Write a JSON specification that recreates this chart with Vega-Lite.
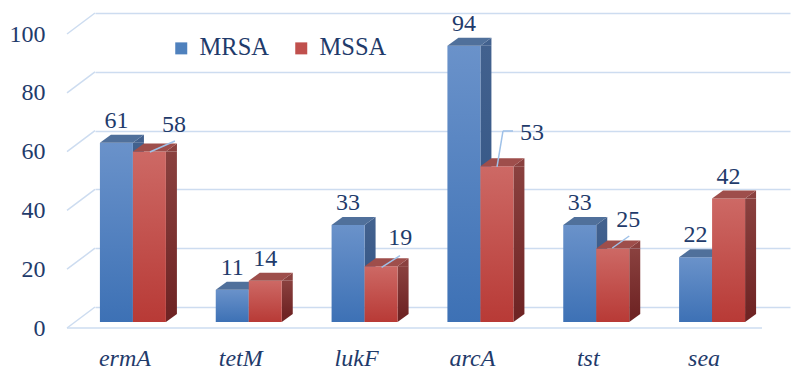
{
  "$schema": "https://vega.github.io/schema/vega-lite/v6.json",
  "width": 695,
  "height": 294,
  "autosize": {"type": "none"},
  "padding": {"left": 95, "top": 13, "right": 20, "bottom": 69},
  "view": {"stroke": null},
  "data": {"values": [
      {"gene": "ermA", "series": "MRSA", "value": 61},
      {"gene": "ermA", "series": "MSSA", "value": 58},
      {"gene": "tetM", "series": "MRSA", "value": 11},
      {"gene": "tetM", "series": "MSSA", "value": 14},
      {"gene": "lukF", "series": "MRSA", "value": 33},
      {"gene": "lukF", "series": "MSSA", "value": 19},
      {"gene": "arcA", "series": "MRSA", "value": 94},
      {"gene": "arcA", "series": "MSSA", "value": 53},
      {"gene": "tst", "series": "MRSA", "value": 33},
      {"gene": "tst", "series": "MSSA", "value": 25},
      {"gene": "sea", "series": "MRSA", "value": 22},
      {"gene": "sea", "series": "MSSA", "value": 42}
  ]},
  "layer": [
    {
      "data": {"values": [{"v": 0}, {"v": 20}, {"v": 40}, {"v": 60}, {"v": 80}, {"v": 100}]},
      "mark": {"type": "rule", "color": "#cddcf0", "strokeWidth": 1.5, "yOffset": 21, "y2Offset": 0},
      "encoding": {
        "x": {"value": -28},
        "x2": {"value": 0},
        "y": {"field": "v", "type": "quantitative", "title": null,
              "scale": {"domain": [0, 100], "nice": false},
              "axis": {"values": [0, 20, 40, 60, 80, 100], "grid": true, "gridColor": "#cddcf0", "gridWidth": 1.5,
                       "domain": false, "ticks": false, "tickSize": 0, "labelPadding": 50, "labelOffset": 21,
                       "labelFont": "Liberation Serif", "labelFontSize": 24, "labelColor": "#1f3b6b"}},
        "y2": {"field": "v"}
      }
    },
    {
      "data": {"values": [{"v": 0}]},
      "mark": {"type": "rule", "color": "#cddcf0", "strokeWidth": 1.5, "yOffset": 21},
      "encoding": {
        "x": {"value": -28},
        "x2": {"value": 667},
        "y": {"field": "v", "type": "quantitative", "title": null}
      }
    },
    {
      "transform": [{"filter": "datum.series == 'MRSA'"}],
      "mark": {"type": "bar", "width": 11, "xOffset": -14.5, "yOffset": 15, "y2Offset": 7,
               "fill": {"gradient": "linear", "x1": 0, "y1": 0, "x2": 0, "y2": 1,
                        "stops": [{"offset": 0, "color": "#42618e"}, {"offset": 1, "color": "#2f5283"}]}},
      "encoding": {
        "x": {"field": "gene", "type": "nominal", "sort": ["ermA", "tetM", "lukF", "arcA", "tst", "sea"], "title": null,
              "scale": {"paddingInner": 0, "paddingOuter": 0},
              "axis": {"domain": false, "ticks": false, "tickSize": 0, "grid": false, "labelAngle": 0,
                       "labelPadding": 39, "labelOffset": -28, "labelFont": "Liberation Serif",
                       "labelFontSize": 24, "labelFontStyle": "italic", "labelColor": "#1f3b6b"}},
        "y": {"field": "value", "type": "quantitative", "title": null},
        "y2": {"datum": 0}
      }
    },
    {
      "transform": [{"filter": "datum.series == 'MRSA'"}],
      "mark": {"type": "point", "shape": "M33,0L44,-8L44,0Z", "size": 4, "filled": true, "opacity": 1,
               "strokeWidth": 0, "color": "#42618e", "xOffset": -53, "yOffset": 15},
      "encoding": {
        "x": {"field": "gene", "type": "nominal", "sort": ["ermA", "tetM", "lukF", "arcA", "tst", "sea"], "title": null},
        "y": {"field": "value", "type": "quantitative", "title": null}
      }
    },
    {
      "transform": [{"filter": "datum.series == 'MRSA'"}],
      "mark": {"type": "point", "shape": "M33,0L33,-8L44,-8Z", "size": 4, "filled": true, "opacity": 1,
               "strokeWidth": 0, "color": "#2f5283", "xOffset": -53, "yOffset": 15},
      "encoding": {
        "x": {"field": "gene", "type": "nominal", "sort": ["ermA", "tetM", "lukF", "arcA", "tst", "sea"], "title": null},
        "y": {"datum": 0, "type": "quantitative"}
      }
    },
    {
      "transform": [{"filter": "datum.series == 'MRSA'"}],
      "mark": {"type": "bar", "width": 33, "xOffset": -36.5, "yOffset": 15, "y2Offset": 15,
               "fill": {"gradient": "linear", "x1": 0, "y1": 0, "x2": 0, "y2": 1,
                        "stops": [{"offset": 0, "color": "#6a92ca"}, {"offset": 1, "color": "#3d71b5"}]}},
      "encoding": {
        "x": {"field": "gene", "type": "nominal", "sort": ["ermA", "tetM", "lukF", "arcA", "tst", "sea"], "title": null},
        "y": {"field": "value", "type": "quantitative", "title": null},
        "y2": {"datum": 0}
      }
    },
    {
      "transform": [{"filter": "datum.series == 'MRSA'"}],
      "mark": {"type": "point", "shape": "M0,0L33,0L44,-8L11,-8Z", "size": 4, "filled": true, "opacity": 1,
               "strokeWidth": 0, "color": "#50709b", "xOffset": -53, "yOffset": 15},
      "encoding": {
        "x": {"field": "gene", "type": "nominal", "sort": ["ermA", "tetM", "lukF", "arcA", "tst", "sea"], "title": null},
        "y": {"field": "value", "type": "quantitative", "title": null}
      }
    },
    {
      "transform": [{"filter": "datum.series == 'MSSA'"}],
      "mark": {"type": "bar", "width": 11, "xOffset": 18.5, "yOffset": 15, "y2Offset": 7,
               "fill": {"gradient": "linear", "x1": 0, "y1": 0, "x2": 0, "y2": 1,
                        "stops": [{"offset": 0, "color": "#8a413f"}, {"offset": 1, "color": "#6f2424"}]}},
      "encoding": {
        "x": {"field": "gene", "type": "nominal", "sort": ["ermA", "tetM", "lukF", "arcA", "tst", "sea"], "title": null},
        "y": {"field": "value", "type": "quantitative", "title": null},
        "y2": {"datum": 0}
      }
    },
    {
      "transform": [{"filter": "datum.series == 'MSSA'"}],
      "mark": {"type": "point", "shape": "M33,0L44,-8L44,0Z", "size": 4, "filled": true, "opacity": 1,
               "strokeWidth": 0, "color": "#8a413f", "xOffset": -20, "yOffset": 15},
      "encoding": {
        "x": {"field": "gene", "type": "nominal", "sort": ["ermA", "tetM", "lukF", "arcA", "tst", "sea"], "title": null},
        "y": {"field": "value", "type": "quantitative", "title": null}
      }
    },
    {
      "transform": [{"filter": "datum.series == 'MSSA'"}],
      "mark": {"type": "point", "shape": "M33,0L33,-8L44,-8Z", "size": 4, "filled": true, "opacity": 1,
               "strokeWidth": 0, "color": "#6f2424", "xOffset": -20, "yOffset": 15},
      "encoding": {
        "x": {"field": "gene", "type": "nominal", "sort": ["ermA", "tetM", "lukF", "arcA", "tst", "sea"], "title": null},
        "y": {"datum": 0, "type": "quantitative"}
      }
    },
    {
      "transform": [{"filter": "datum.series == 'MSSA'"}],
      "mark": {"type": "bar", "width": 33, "xOffset": -3.5, "yOffset": 15, "y2Offset": 15,
               "fill": {"gradient": "linear", "x1": 0, "y1": 0, "x2": 0, "y2": 1,
                        "stops": [{"offset": 0, "color": "#cd6965"}, {"offset": 1, "color": "#b83a36"}]}},
      "encoding": {
        "x": {"field": "gene", "type": "nominal", "sort": ["ermA", "tetM", "lukF", "arcA", "tst", "sea"], "title": null},
        "y": {"field": "value", "type": "quantitative", "title": null},
        "y2": {"datum": 0}
      }
    },
    {
      "transform": [{"filter": "datum.series == 'MSSA'"}],
      "mark": {"type": "point", "shape": "M0,0L33,0L44,-8L11,-8Z", "size": 4, "filled": true, "opacity": 1,
               "strokeWidth": 0, "color": "#9e4e4b", "xOffset": -20, "yOffset": 15},
      "encoding": {
        "x": {"field": "gene", "type": "nominal", "sort": ["ermA", "tetM", "lukF", "arcA", "tst", "sea"], "title": null},
        "y": {"field": "value", "type": "quantitative", "title": null}
      }
    },
    {
      "transform": [{"filter": "datum.series == 'MRSA'"}],
      "mark": {"type": "text", "xOffset": -36.5, "align": "center", "baseline": "alphabetic",
               "fontSize": 24, "font": "Liberation Serif", "color": "#1f3b6b"},
      "encoding": {
        "x": {"field": "gene", "type": "nominal", "sort": ["ermA", "tetM", "lukF", "arcA", "tst", "sea"], "title": null},
        "y": {"field": "value", "type": "quantitative", "title": null},
        "text": {"field": "value", "type": "quantitative"}
      }
    },
    {
      "transform": [{"filter": "datum.series == 'MSSA' && (datum.gene == 'tetM' || datum.gene == 'sea')"}],
      "mark": {"type": "text", "xOffset": -3.5, "align": "center", "baseline": "alphabetic",
               "fontSize": 24, "font": "Liberation Serif", "color": "#1f3b6b"},
      "encoding": {
        "x": {"field": "gene", "type": "nominal", "sort": ["ermA", "tetM", "lukF", "arcA", "tst", "sea"], "title": null},
        "y": {"field": "value", "type": "quantitative", "title": null},
        "text": {"field": "value", "type": "quantitative"}
      }
    },
    {
      "transform": [{"filter": "datum.series == 'MSSA' && datum.gene == 'ermA'"}],
      "mark": {"type": "text", "xOffset": 21, "yOffset": -4.5, "align": "center", "baseline": "alphabetic",
               "fontSize": 24, "font": "Liberation Serif", "color": "#1f3b6b"},
      "encoding": {
        "x": {"field": "gene", "type": "nominal", "sort": ["ermA", "tetM", "lukF", "arcA", "tst", "sea"], "title": null},
        "y": {"field": "value", "type": "quantitative", "title": null},
        "text": {"field": "value", "type": "quantitative"}
      }
    },
    {
      "transform": [{"filter": "datum.series == 'MSSA' && datum.gene == 'ermA'"}],
      "mark": {"type": "rule", "color": "#9fc1e8", "strokeWidth": 1.5, "xOffset": -3, "x2Offset": 22, "yOffset": 15.5, "y2Offset": 4.5},
      "encoding": {
        "x": {"field": "gene", "type": "nominal", "sort": ["ermA", "tetM", "lukF", "arcA", "tst", "sea"], "title": null},
        "x2": {"field": "gene"},
        "y": {"field": "value", "type": "quantitative", "title": null},
        "y2": {"field": "value"}
      }
    },
    {
      "transform": [{"filter": "datum.series == 'MSSA' && datum.gene == 'lukF'"}],
      "mark": {"type": "text", "xOffset": 15.6, "yOffset": -6, "align": "center", "baseline": "alphabetic",
               "fontSize": 24, "font": "Liberation Serif", "color": "#1f3b6b"},
      "encoding": {
        "x": {"field": "gene", "type": "nominal", "sort": ["ermA", "tetM", "lukF", "arcA", "tst", "sea"], "title": null},
        "y": {"field": "value", "type": "quantitative", "title": null},
        "text": {"field": "value", "type": "quantitative"}
      }
    },
    {
      "transform": [{"filter": "datum.series == 'MSSA' && datum.gene == 'lukF'"}],
      "mark": {"type": "rule", "color": "#9fc1e8", "strokeWidth": 1.5, "xOffset": -3, "x2Offset": 15.4, "yOffset": 16.2, "y2Offset": 4.6},
      "encoding": {
        "x": {"field": "gene", "type": "nominal", "sort": ["ermA", "tetM", "lukF", "arcA", "tst", "sea"], "title": null},
        "x2": {"field": "gene"},
        "y": {"field": "value", "type": "quantitative", "title": null},
        "y2": {"field": "value"}
      }
    },
    {
      "transform": [{"filter": "datum.series == 'MSSA' && datum.gene == 'arcA'"}],
      "mark": {"type": "text", "xOffset": 31.6, "yOffset": -11, "align": "center", "baseline": "alphabetic",
               "fontSize": 24, "font": "Liberation Serif", "color": "#1f3b6b"},
      "encoding": {
        "x": {"field": "gene", "type": "nominal", "sort": ["ermA", "tetM", "lukF", "arcA", "tst", "sea"], "title": null},
        "y": {"field": "value", "type": "quantitative", "title": null},
        "text": {"field": "value", "type": "quantitative"}
      }
    },
    {
      "transform": [{"filter": "datum.series == 'MSSA' && datum.gene == 'arcA'"}],
      "mark": {"type": "rule", "color": "#9fc1e8", "strokeWidth": 1.5, "xOffset": -3.4, "x2Offset": 2.6, "yOffset": 15.8, "y2Offset": -20.2},
      "encoding": {
        "x": {"field": "gene", "type": "nominal", "sort": ["ermA", "tetM", "lukF", "arcA", "tst", "sea"], "title": null},
        "x2": {"field": "gene"},
        "y": {"field": "value", "type": "quantitative", "title": null},
        "y2": {"field": "value"}
      }
    },
    {
      "transform": [{"filter": "datum.series == 'MSSA' && datum.gene == 'arcA'"}],
      "mark": {"type": "rule", "color": "#9fc1e8", "strokeWidth": 1.5, "xOffset": 2.6, "x2Offset": 12.6, "yOffset": -20.2, "y2Offset": -20.2},
      "encoding": {
        "x": {"field": "gene", "type": "nominal", "sort": ["ermA", "tetM", "lukF", "arcA", "tst", "sea"], "title": null},
        "x2": {"field": "gene"},
        "y": {"field": "value", "type": "quantitative", "title": null},
        "y2": {"field": "value"}
      }
    },
    {
      "transform": [{"filter": "datum.series == 'MSSA' && datum.gene == 'tst'"}],
      "mark": {"type": "text", "xOffset": 12, "yOffset": -6.5, "align": "center", "baseline": "alphabetic",
               "fontSize": 24, "font": "Liberation Serif", "color": "#1f3b6b"},
      "encoding": {
        "x": {"field": "gene", "type": "nominal", "sort": ["ermA", "tetM", "lukF", "arcA", "tst", "sea"], "title": null},
        "y": {"field": "value", "type": "quantitative", "title": null},
        "text": {"field": "value", "type": "quantitative"}
      }
    },
    {
      "transform": [{"filter": "datum.series == 'MSSA' && datum.gene == 'tst'"}],
      "mark": {"type": "rule", "color": "#9fc1e8", "strokeWidth": 1.5, "xOffset": -4, "x2Offset": 13, "yOffset": 14.5, "y2Offset": 2.5},
      "encoding": {
        "x": {"field": "gene", "type": "nominal", "sort": ["ermA", "tetM", "lukF", "arcA", "tst", "sea"], "title": null},
        "x2": {"field": "gene"},
        "y": {"field": "value", "type": "quantitative", "title": null},
        "y2": {"field": "value"}
      }
    },
    {
      "mark": {"type": "square", "opacity": 0, "filled": true},
      "encoding": {
        "x": {"field": "gene", "type": "nominal", "sort": ["ermA", "tetM", "lukF", "arcA", "tst", "sea"], "title": null},
        "y": {"field": "value", "type": "quantitative", "title": null},
        "color": {"field": "series", "type": "nominal",
                  "scale": {"domain": ["MRSA", "MSSA"], "range": ["#4f81bd", "#c0504d"]},
                  "legend": {"orient": "none", "legendX": 74, "legendY": 23, "direction": "horizontal", "title": null,
                             "symbolType": "square", "symbolSize": 144, "symbolOpacity": 1, "symbolStrokeWidth": 0,
                             "labelFont": "Liberation Serif", "labelFontSize": 24.5, "labelColor": "#1f3b6b",
                             "labelOffset": 6, "columnPadding": 20}}
      }
    }
  ]
}
